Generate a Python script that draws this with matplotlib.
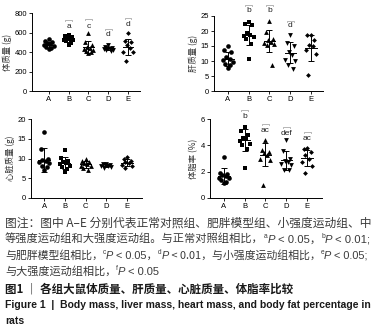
import matplotlib
matplotlib.use("Agg")
import matplotlib.pyplot as plt
import numpy as np

plt.rcParams['font.family'] = ['Noto Sans CJK SC', 'DejaVu Sans']

groups = ["A", "B", "C", "D", "E"]

# Panel 1: body mass (g)
bm_pts = [
    [530, 510, 500, 490, 480, 470, 465, 455, 445, 430],
    [570, 560, 555, 540, 530, 525, 520, 510, 495, 470],
    [595, 500, 470, 455, 445, 430, 420, 410, 395, 385],
    [470, 455, 445, 440, 435, 430, 425, 420, 415],
    [590, 515, 505, 470, 440, 400, 395, 310],
]
bm_mean = [475, 530, 452, 437, 453]
bm_sd = [30, 30, 65, 18, 80]

# Panel 2: liver mass (g)
lv_pts = [
    [15.1, 13.6, 13.1, 11.2, 10.8, 10.3, 9.7, 8.9, 8.6, 7.8],
    [23.1, 22.3, 22.0, 19.2, 18.6, 18.3, 18.1, 17.5, 15.8, 10.8],
    [23.4, 19.8, 17.5, 17.0, 16.4, 16.0, 15.8, 15.3, 8.8],
    [18.8, 16.0, 15.0, 13.0, 12.0, 10.5, 10.0, 8.6, 7.5],
    [18.6, 18.6, 17.0, 15.3, 15.0, 13.6, 12.5, 5.5],
]
lv_mean = [10.8, 18.6, 16.6, 12.7, 14.3]
lv_sd = [2.3, 3.4, 3.6, 3.5, 4.3]

# Panel 3: heart mass (g)
ht_pts = [
    [16.8, 12.3, 9.8, 9.6, 9.4, 9.0, 8.8, 8.2, 7.8, 7.0],
    [12.2, 10.2, 9.3, 9.0, 8.8, 8.6, 8.2, 7.8, 7.4, 6.6],
    [9.8, 9.4, 9.0, 8.8, 8.6, 8.2, 8.0, 7.6, 7.2],
    [8.7, 8.5, 8.4, 8.3, 8.2, 8.0, 7.8, 7.5],
    [10.4, 10.0, 9.4, 9.0, 8.8, 8.4, 8.0, 7.7],
]
ht_mean = [9.6, 8.8, 8.5, 8.2, 8.9]
ht_sd = [3.0, 1.5, 0.8, 0.4, 0.9]

# Panel 4: body fat percentage (%)
bf_pts = [
    [3.1, 1.9, 1.85, 1.75, 1.65, 1.55, 1.5, 1.35, 1.25, 1.15],
    [5.4, 5.1, 4.75, 4.55, 4.5, 4.3, 4.1, 4.0, 3.7, 2.3],
    [4.4, 3.65, 3.5, 3.45, 3.3, 3.0, 2.9, 1.0],
    [4.4, 3.6, 3.0, 2.8, 2.7, 2.6, 2.5, 2.15, 2.1],
    [3.8, 3.7, 3.5, 3.3, 3.0, 2.75, 2.4, 1.9],
]
bf_mean = [1.65, 4.4, 3.3, 2.85, 3.05]
bf_sd = [0.6, 0.85, 0.9, 0.75, 0.6]

# significance letters: (group index, label, label y, bracket y)
bm_sig = [(1, "a", 660, 725), (2, "c", 665, 735), (3, "d", 578, 640), (4, "d", 685, 750)]
lv_sig = [(1, "b", 26.9, 28.6), (2, "b", 26.9, 28.6), (3, "d", 21.9, 23.4)]
ht_sig = []
bf_sig = [(1, "b", 6.2, 6.7), (2, "ac", 5.15, 5.6), (3, "def", 4.9, 5.4), (4, "ac", 4.5, 5.0)]

ylabels = ["体质量 (g)", "肝质量 (g)", "心脏质量 (g)", "体脂率 (%)"]

markers = ["o", "s", "^", "v", "D"]
msizes = [11, 11, 12, 12, 6]

W, H = 376, 329
fig = plt.figure(figsize=(W / 100, H / 100), dpi=100)


def ax_rect(l, r, t, b):
    return [l / W, 1 - b / H, (r - l) / W, (b - t) / H]


num_font = ['Liberation Sans', 'DejaVu Sans']


def offsets(vals):
    order = np.argsort(vals)[::-1]
    pattern = [0.0, -0.17, 0.17, -0.08, 0.08, -0.24, 0.24, -0.12, 0.12, 0.0, -0.2, 0.2]
    off = np.zeros(len(vals))
    for k, idx in enumerate(order):
        off[idx] = pattern[k % len(pattern)]
    return off


def panel(rect, pts, mean, sd, sig, ylim, yticks, xlim, ylabel):
    ax = fig.add_axes(rect)
    for i, vals in enumerate(pts):
        v = np.array(vals, dtype=float)
        x = i + offsets(v)
        ax.scatter(x, v, s=msizes[i], marker=markers[i], color="black", linewidths=0, zorder=3)
        ax.plot([i - 0.27, i + 0.27], [mean[i], mean[i]], color="black", lw=0.7, zorder=4)
        ax.errorbar([i], [mean[i]], yerr=[sd[i]], fmt="none", ecolor="black",
                    elinewidth=0.7, capsize=2.2, capthick=0.7, zorder=4)
    for g, lab, ly, by in sig:
        ax.text(g, ly, lab, ha="center", va="center", fontsize=6,
                family=num_font, color="#222222", clip_on=False)
        ax.plot([g - 0.17, g - 0.17, g + 0.17, g + 0.17],
                [by - (ylim[1] * 0.012), by, by, by - (ylim[1] * 0.012)],
                color="#aaaaaa", lw=0.6, clip_on=False)
    ax.set_ylim(*ylim)
    ax.set_xlim(*xlim)
    ax.set_yticks(yticks)
    ax.set_xticks(range(5))
    ax.set_xticklabels(groups)
    for s in ["top", "right"]:
        ax.spines[s].set_visible(False)
    for s in ["left", "bottom"]:
        ax.spines[s].set_linewidth(0.7)
    ax.tick_params(axis="both", labelsize=5.5, width=0.6, length=2, pad=1.5)
    for t in ax.get_xticklabels() + ax.get_yticklabels():
        t.set_family(num_font)
    ax.set_ylabel(ylabel, fontsize=6, labelpad=2, color="#333333")
    return ax


panel(ax_rect(32, 140, 13, 91), bm_pts, bm_mean, bm_sd, bm_sig, (0, 800),
      [0, 200, 400, 600, 800], (-0.85, 4.6), ylabels[0])
panel(ax_rect(214, 323, 16, 91), lv_pts, lv_mean, lv_sd, lv_sig, (0, 25),
      [0, 5, 10, 15, 20, 25], (-0.67, 4.58), ylabels[1])
panel(ax_rect(31, 142, 119, 198), ht_pts, ht_mean, ht_sd, ht_sig, (0, 20),
      [0, 5, 10, 15, 20], (-0.63, 4.72), ylabels[2])
panel(ax_rect(210, 322, 119, 198), bf_pts, bf_mean, bf_sd, bf_sig, (0, 6),
      [0, 2, 4, 6], (-0.67, 4.72), ylabels[3])

# caption
renderer = fig.canvas.get_renderer()
cap_col = "#3a3a3a"
cjk = ['Noto Sans CJK SC', 'DejaVu Sans']
lat = ['Liberation Sans', 'Noto Sans CJK SC', 'DejaVu Sans']


def place_runs(x0, ybase, runs, fs):
    x = x0
    texts = []
    for text, kind in runs:
        kw = dict(fontsize=fs, color=cap_col, family=cjk, va="baseline", ha="left")
        yy = ybase
        if kind == "sup":
            kw["fontsize"] = fs * 0.6
            kw["family"] = lat
            yy = ybase + 4.5 / H
        elif kind == "it":
            kw["family"] = lat
            kw["style"] = "italic"
        elif kind == "num":
            kw["family"] = lat
        elif kind == "bold":
            kw["weight"] = "bold"
            kw["color"] = "#1a1a1a"
        elif kind == "boldlat":
            kw["weight"] = "bold"
            kw["color"] = "#1a1a1a"
            kw["family"] = lat
        t = fig.text(x, yy, text, **kw)
        texts.append(t)
        bb = t.get_window_extent(renderer)
        x = bb.x1 / W
    return texts, x * W - x0 * W


def draw_runs(x0_px, y_px, runs, target_px=None, fs=8.2):
    if target_px is not None:
        texts, w = place_runs(x0_px / W, 1 - y_px / H, runs, fs)
        for t in texts:
            t.remove()
        fs = fs * target_px / w
    place_runs(x0_px / W, 1 - y_px / H, runs, fs)
    return fs


draw_runs(5, 227, [("图注：图中 A–E 分别代表正常对照组、肥胖模型组、小强度运动组、中", "n")], 367)
draw_runs(5, 243, [("等强度运动组和大强度运动组。与正常对照组相比，", "n"), ("a", "sup"), ("P", "it"),
                   (" < 0.05，", "num"), ("b", "sup"), ("P", "it"), (" < 0.01;", "num")], 364)
draw_runs(5, 259, [("与肥胖模型组相比，", "n"), ("c", "sup"), ("P", "it"), (" < 0.05，", "num"),
                   ("d", "sup"), ("P", "it"), (" < 0.01，与小强度运动组相比，", "n"),
                   ("e", "sup"), ("P", "it"), (" < 0.05;", "num")], 364)
draw_runs(5, 275, [("与大强度运动组相比，", "n"), ("f", "sup"), ("P", "it"), (" < 0.05", "num")], 155)
draw_runs(5, 292, [("图1 ｜ 各组大鼠体质量、肝质量、心脏质量、体脂率比较", "bold")], 288)
fig_fs = draw_runs(5, 308, [("Figure 1  |  Body mass, liver mass, heart mass, and body fat percentage in", "boldlat")], 365)
draw_runs(5, 324, [("rats", "boldlat")], None, fs=fig_fs)

fig.savefig("out.png", dpi=100)
